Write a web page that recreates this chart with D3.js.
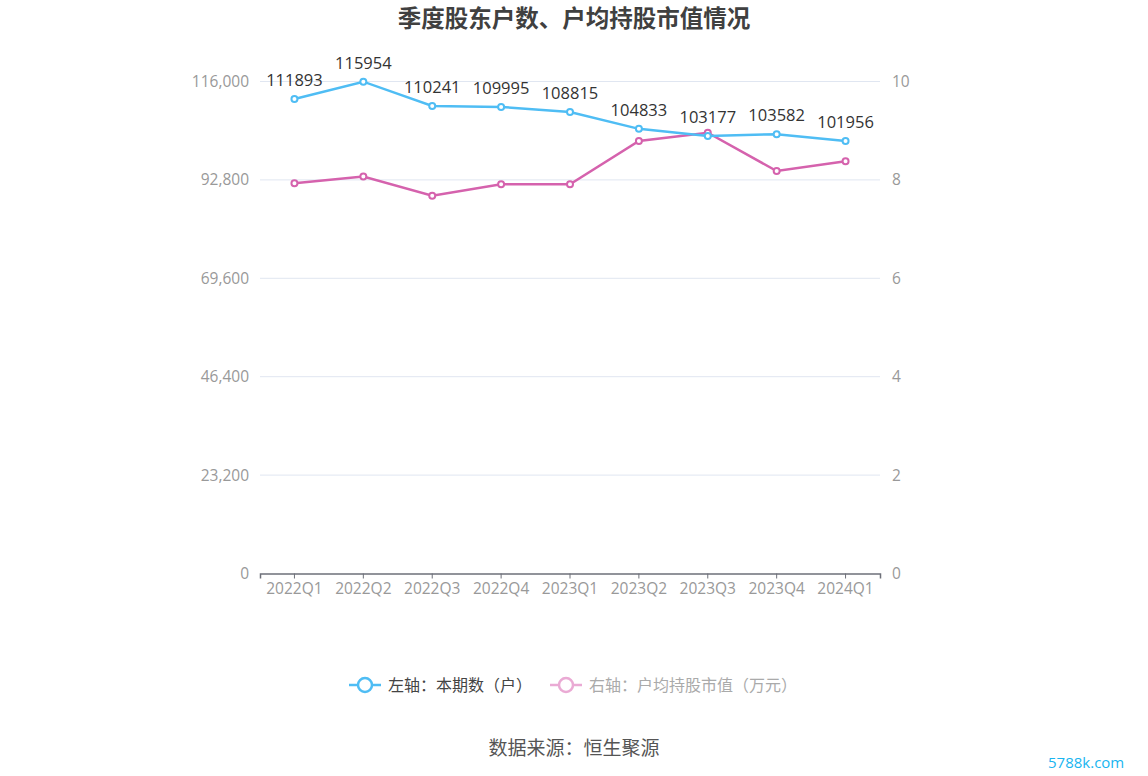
<!DOCTYPE html>
<html><head><meta charset="utf-8">
<script src="https://cdn.jsdelivr.net/npm/d3@7"></script>
<style>body{margin:0;background:#fff;}
svg text{font-family:"Open Sans","Noto Sans CJK SC",sans-serif;}</style>
</head><body><svg id="c" width="1148" height="776"></svg>
<script>
const categories = ["2022Q1","2022Q2","2022Q3","2022Q4","2023Q1","2023Q2","2023Q3","2023Q4","2024Q1"];
const holders = [111893,115954,110241,109995,108815,104833,103177,103582,101956];
const avgValue = [7.93,8.07,7.68,7.91,7.91,8.79,8.96,8.18,8.38];
const leftTicks = [0,23200,46400,69600,92800,116000];
const rightTicks = [0,2,4,6,8,10];
const title = "季度股东户数、户均持股市值情况";
const legendNames = ["左轴：本期数（户）","右轴：户均持股市值（万元）"];
const source = "数据来源：恒生聚源";

const svg = d3.select("#c");
const L=260, R=880, T=81.5, B=573.5;
const blue="#4fbdf4", pink="#d562ad";
const x = d3.scaleBand().domain(categories).range([L,R]);
const yL = d3.scaleLinear().domain([0,116000]).range([B,T]);
const yR = d3.scaleLinear().domain([0,10]).range([B,T]);
const cx = d => x(d)+x.bandwidth()/2;

svg.append("text").attr("x",574).attr("y",27).attr("text-anchor","middle")
  .attr("font-size",23.5).attr("font-weight","bold").attr("fill","#404040")
  .style("font-family","'Noto Sans CJK SC',sans-serif").text(title);

svg.append("g").selectAll("line").data(leftTicks.slice(1)).join("line")
  .attr("x1",L).attr("x2",R).attr("y1",d=>yL(d)).attr("y2",d=>yL(d))
  .attr("stroke","#e0e6f1").attr("stroke-width",1);

const fmt = d3.format(",");
const gl = svg.append("g").attr("transform",`translate(${L},0)`)
  .call(d3.axisLeft(yL).tickValues(leftTicks).tickFormat(fmt).tickSize(0).tickPadding(11));
gl.select(".domain").remove();
gl.selectAll("text").attr("font-size",15.5).attr("fill","#999").attr("font-family",null);
const gr = svg.append("g").attr("transform",`translate(${R},0)`)
  .call(d3.axisRight(yR).tickValues(rightTicks).tickSize(0).tickPadding(12));
gr.select(".domain").remove();
gr.selectAll("text").attr("font-size",15.5).attr("fill","#999").attr("font-family",null);

const gb = svg.append("g").attr("transform",`translate(0,${B})`)
  .call(d3.axisBottom(x).tickSize(5).tickPadding(4));
gb.select(".domain").attr("stroke","#6e7079").attr("stroke-width",1.5);
gb.selectAll(".tick line").attr("stroke","#6e7079");
gb.selectAll("text").attr("font-size",15.5).attr("fill","#999").attr("font-family",null);

function series(vals, y, color){
  const line = d3.line().x((d,i)=>cx(categories[i])).y(d=>y(d));
  svg.append("path").datum(vals).attr("d",line).attr("fill","none").attr("stroke",color).attr("stroke-width",2.5);
  svg.append("g").selectAll("circle").data(vals).join("circle")
    .attr("cx",(d,i)=>cx(categories[i])).attr("cy",d=>y(d)).attr("r",3)
    .attr("fill","#fff").attr("stroke",color).attr("stroke-width",2);
}
series(avgValue, yR, pink);
series(holders, yL, blue);

svg.append("g").selectAll("text").data(holders).join("text")
  .attr("x",(d,i)=>cx(categories[i])).attr("y",d=>yL(d)-13)
  .attr("text-anchor","middle").attr("font-size",16.5).attr("fill","#333").text(d=>d);

const lg = svg.append("g");
function legItem(x0, color, textColor, label){
  lg.append("line").attr("x1",x0).attr("x2",x0+32).attr("y1",685).attr("y2",685).attr("stroke",color).attr("stroke-width",2.5);
  lg.append("circle").attr("cx",x0+16).attr("cy",685).attr("r",7).attr("fill","#fff").attr("stroke",color).attr("stroke-width",2.5);
  lg.append("text").attr("x",x0+39).attr("y",691).attr("font-size",16).attr("fill",textColor)
    .style("font-family","'Noto Sans CJK SC',sans-serif").text(label);
}
legItem(349, blue, "#444", legendNames[0]);
legItem(550, "#eaaad4", "#aaa", legendNames[1]);

svg.append("text").attr("x",574).attr("y",755).attr("text-anchor","middle")
  .attr("font-size",19).attr("fill","#555").style("font-family","'Noto Sans CJK SC',sans-serif").text(source);
svg.append("text").attr("x",1048).attr("y",768).attr("font-size",15).attr("fill","#19b5f0")
  .text("5788k.com");
</script></body></html>
